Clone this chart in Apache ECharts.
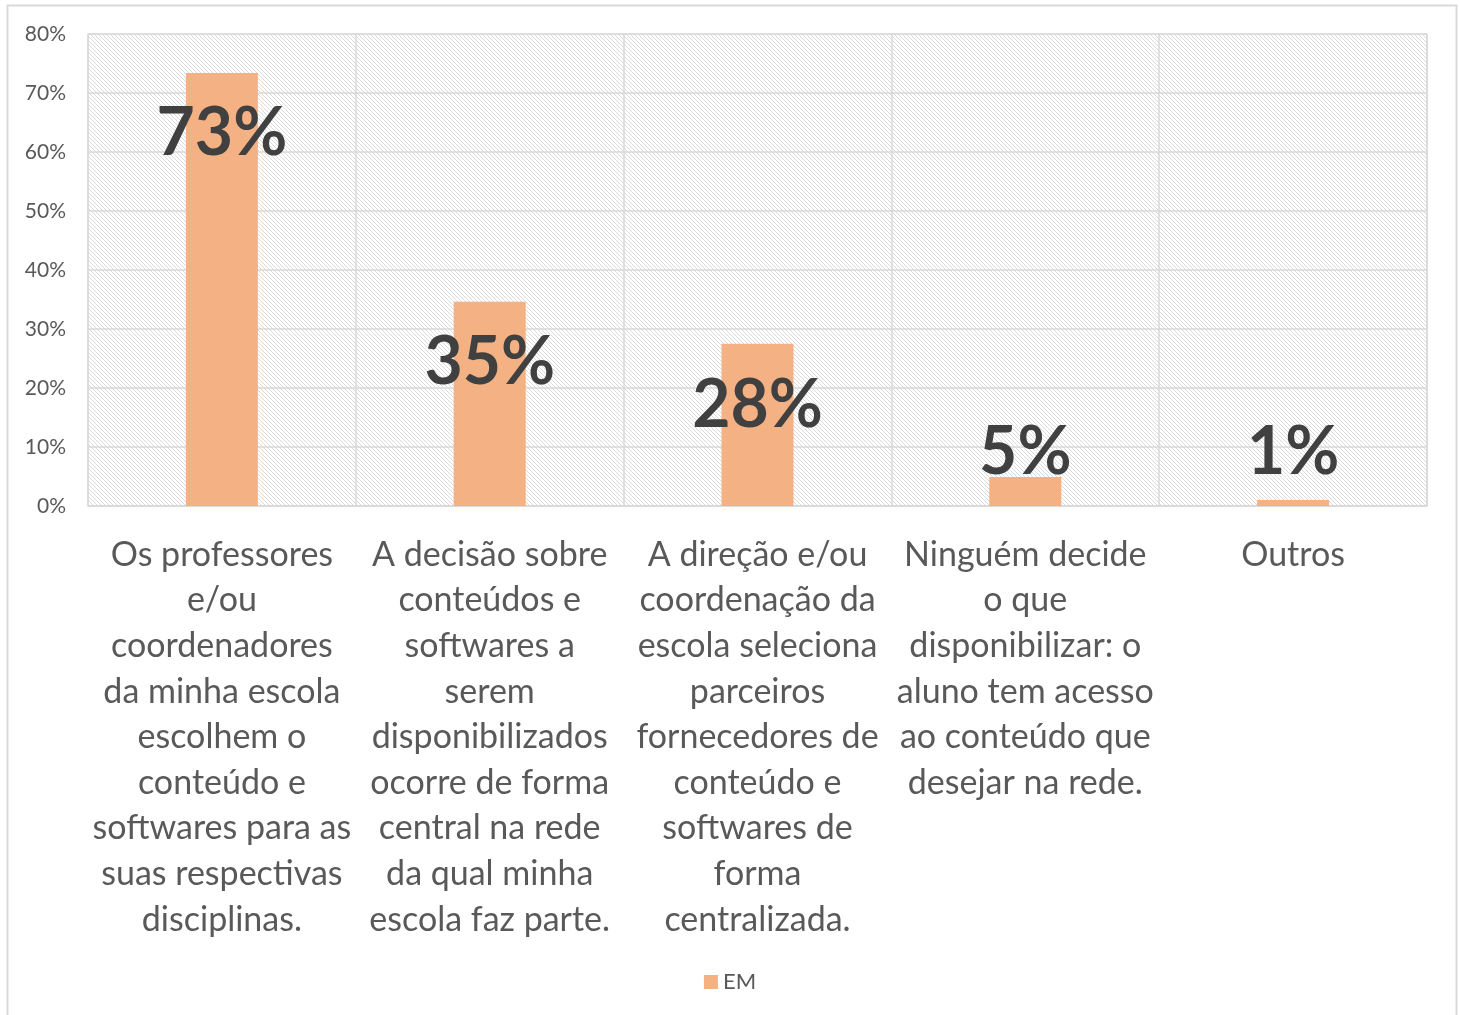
<!DOCTYPE html>
<html>
<head>
<meta charset="utf-8">
<script src="https://cdn.jsdelivr.net/npm/echarts@6/dist/echarts.min.js"></script>
<style>
  html, body { margin: 0; padding: 0; background: #fff; }
  #main { width: 1460px; height: 1015px; }
</style>
</head>
<body>
<div id="main"></div>
<script>
// categorias (quebras de linha como no gráfico original)
var categories = [
  'Os professores\ne/ou\ncoordenadores\nda minha escola\nescolhem o\nconteúdo e\nsoftwares para as\nsuas respectivas\ndisciplinas.',
  'A decisão sobre\nconteúdos e\nsoftwares a\nserem\ndisponibilizados\nocorre de forma\ncentral na rede\nda qual minha\nescola faz parte.',
  'A direção e/ou\ncoordenação da\nescola seleciona\nparceiros\nfornecedores de\nconteúdo e\nsoftwares de\nforma\ncentralizada.',
  'Ninguém decide\no que\ndisponibilizar: o\naluno tem acesso\nao conteúdo que\ndesejar na rede.',
  'Outros'
];
var emValues = [73.4, 34.6, 27.5, 4.9, 1.0];
var yTicks = [0, 10, 20, 30, 40, 50, 60, 70, 80];
var seriesName = 'EM';

// deslocamento vertical dos rótulos (como posicionados no Excel)
var labelShift = [99, 99, 100, 14, -9];

// padrão hachurado do fundo da área de plotagem
function hatch() {
  var c = document.createElement('canvas');
  c.width = 4; c.height = 4;
  var ctx = c.getContext('2d');
  ctx.fillStyle = '#ffffff';
  ctx.fillRect(0, 0, 4, 4);
  ctx.fillStyle = '#dadada';
  for (var i = 0; i < 4; i++) ctx.fillRect(i, i, 1, 1);
  return c;
}

var chart = echarts.init(document.getElementById('main'));

var option = {
  backgroundColor: '#ffffff',
  animation: false,
  textStyle: { fontFamily: 'Lato' },
  graphic: [{
    type: 'rect',
    shape: { x: 7.5, y: 5.5, width: 1449, height: 1020 },
    style: { fill: 'none', stroke: '#d9d9d9', lineWidth: 2 },
    silent: true
  }],
  legend: {
    data: [seriesName],
    bottom: 17,
    left: 'center',
    itemWidth: 14,
    itemHeight: 14,
    itemGap: 6,
    icon: 'rect',
    textStyle: { fontSize: 22, color: '#595959', fontFamily: 'Lato' }
  },
  grid: {
    left: 88,
    right: 33,
    top: 34,
    bottom: 509,
    show: true,
    backgroundColor: { image: hatch(), repeat: 'repeat' },
    borderColor: '#d9d9d9',
    borderWidth: 1
  },
  xAxis: {
    type: 'category',
    data: categories,
    axisLine: { lineStyle: { color: '#d9d9d9', width: 1.5 } },
    axisTick: { show: false },
    splitLine: { show: true, lineStyle: { color: '#d9d9d9', width: 1.5 } },
    axisLabel: {
      interval: 0,
      margin: 26,
      fontSize: 34,
      lineHeight: 45.6,
      color: '#595959',
      fontFamily: 'Lato',
      align: 'center',
      verticalAlign: 'top'
    }
  },
  yAxis: {
    type: 'value',
    min: yTicks[0],
    max: yTicks[yTicks.length - 1],
    interval: 10,
    axisLine: { show: false },
    axisTick: { show: false },
    splitLine: { lineStyle: { color: '#d9d9d9', width: 1.5 } },
    axisLabel: {
      margin: 22,
      fontSize: 21,
      color: '#595959',
      fontFamily: 'Lato',
      formatter: function (v) { return v + '%'; }
    }
  },
  series: [{
    name: seriesName,
    type: 'bar',
    barWidth: 72,
    itemStyle: { color: '#F4B183' },
    data: emValues.map(function (v, i) {
      return {
        value: v,
        label: { offset: [0, labelShift[i]] }
      };
    }),
    label: {
      show: true,
      position: 'top',
      distance: 5,
      fontSize: 66,
      lineHeight: 66,
      fontWeight: 'bold',
      color: '#404040',
      fontFamily: 'Lato',
      formatter: function (p) { return Math.round(p.value) + '%'; }
    }
  }]
};

chart.setOption(option);
</script>
</body>
</html>
